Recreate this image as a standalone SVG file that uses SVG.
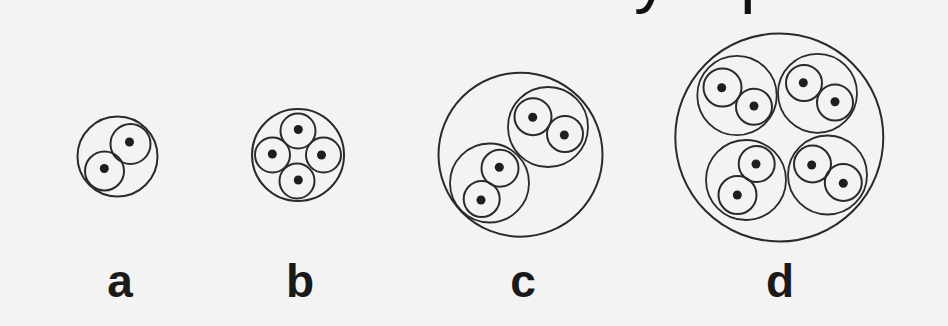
<svg xmlns="http://www.w3.org/2000/svg" width="948" height="326" viewBox="0 0 948 326">
<style>
.o{fill:none;stroke:#2a2a2a;stroke-width:2}
.g{fill:none;stroke:#2a2a2a;stroke-width:1.8}
.i{fill:none;stroke:#2a2a2a;stroke-width:2}
.d{fill:#1e1e1e}
.lbl{font-family:"Liberation Sans",Arial,sans-serif;font-weight:bold;font-size:46px;fill:#1a1a1a;text-anchor:middle}
.frag{font-family:"Liberation Sans",Arial,sans-serif;font-size:70px;fill:#111}
</style>
<rect width="948" height="326" fill="#f3f3f3"/>
<text class="frag" x="634" y="-1">у</text>
<text class="frag" x="740" y="-1">р</text>
<g id="fig-a">
<circle class="o" cx="117.5" cy="156.5" r="40"/>
<circle class="i" cx="130.5" cy="144" r="20"/>
<circle class="d" cx="129.5" cy="142" r="4.5"/>
<circle class="i" cx="104.5" cy="171" r="19.5"/>
<circle class="d" cx="104.3" cy="168.5" r="4.5"/>
<text class="lbl" x="120" y="297">a</text>
</g>
<g id="fig-b">
<circle class="o" cx="298" cy="155" r="46"/>
<circle class="i" cx="298" cy="131" r="17.5"/>
<circle class="d" cx="298.3" cy="129.5" r="4.5"/>
<circle class="i" cx="272.5" cy="155" r="17.5"/>
<circle class="d" cx="272.3" cy="154" r="4.5"/>
<circle class="i" cx="323.5" cy="155" r="17.5"/>
<circle class="d" cx="321.5" cy="155" r="4.5"/>
<circle class="i" cx="297" cy="181" r="17.5"/>
<circle class="d" cx="298.3" cy="180" r="4.5"/>
<text class="lbl" x="300" y="297">b</text>
</g>
<g id="fig-c">
<circle class="o" cx="520.5" cy="154.7" r="82"/>
<circle class="g" cx="548" cy="127" r="40"/>
<circle class="i" cx="533" cy="116.7" r="18.5"/>
<circle class="d" cx="532.7" cy="117.3" r="4.5"/>
<circle class="i" cx="565" cy="134" r="18"/>
<circle class="d" cx="564.3" cy="135" r="4.5"/>
<circle class="g" cx="489.5" cy="183" r="39.5"/>
<circle class="i" cx="500" cy="168.3" r="18.5"/>
<circle class="d" cx="499.3" cy="167.3" r="4.5"/>
<circle class="i" cx="481.7" cy="199" r="18"/>
<circle class="d" cx="481" cy="200" r="4.5"/>
<text class="lbl" x="523" y="297">c</text>
</g>
<g id="fig-d">
<circle class="o" cx="779.3" cy="137.5" r="104"/>
<circle class="g" cx="737" cy="95.5" r="39.7"/>
<circle class="i" cx="722.5" cy="87.5" r="19"/>
<circle class="d" cx="721.7" cy="87.7" r="4.5"/>
<circle class="i" cx="754" cy="106.7" r="18"/>
<circle class="d" cx="754" cy="106" r="4.5"/>
<circle class="g" cx="817.5" cy="93.3" r="39.5"/>
<circle class="i" cx="804" cy="83" r="18"/>
<circle class="d" cx="803.3" cy="82.7" r="4.5"/>
<circle class="i" cx="835" cy="102.5" r="18"/>
<circle class="d" cx="835" cy="101.7" r="4.5"/>
<circle class="g" cx="746" cy="180" r="40"/>
<circle class="i" cx="756.7" cy="164" r="18"/>
<circle class="d" cx="756" cy="164" r="4.5"/>
<circle class="i" cx="737.5" cy="195" r="19"/>
<circle class="d" cx="737.3" cy="195" r="4.5"/>
<circle class="g" cx="827.5" cy="175" r="39.5"/>
<circle class="i" cx="812.5" cy="164" r="18.5"/>
<circle class="d" cx="811.7" cy="165" r="4.5"/>
<circle class="i" cx="843.3" cy="182.5" r="18.5"/>
<circle class="d" cx="843.3" cy="183.3" r="4.5"/>
<text class="lbl" x="780" y="297">d</text>
</g>
<g id="connectors"/>
</svg>
